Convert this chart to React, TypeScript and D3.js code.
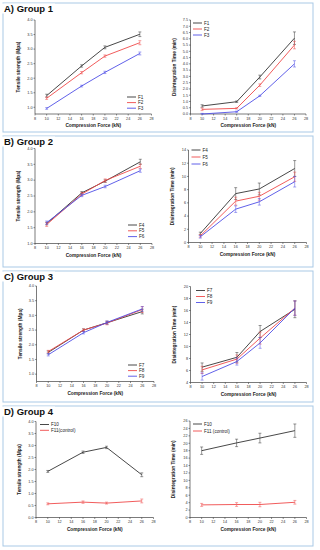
import React from 'react';
import * as d3 from 'd3';

// compression forces (kN)
const forces = [10, 16, 20, 26];
const xTicks = d3.range(8, 29, 2);

// Group 1
const f1Tensile = [1.4, 2.42, 3.06, 3.51];
const f1TensileErr = [0.05, 0.04, 0.05, 0.08];
const f2Tensile = [1.31, 2.19, 2.76, 3.22];
const f2TensileErr = [0.04, 0.04, 0.04, 0.07];
const f3Tensile = [0.96, 1.73, 2.2, 2.85];
const f3TensileErr = [0.03, 0.03, 0.04, 0.05];
const f1Disint = [0.64, 0.98, 2.95, 6.05];
const f1DisintErr = [0.1, 0.06, 0.15, 0.5];
const f2Disint = [0.37, 0.45, 2.3, 5.5];
const f2DisintErr = [0.1, 0.05, 0.1, 0.3];
const f3Disint = [0.0, 0.18, 1.45, 4.0];
const f3DisintErr = [0.05, 0.05, 0.05, 0.25];

// Group 2
const f4Tensile = [1.63, 2.6, 2.97, 3.58];
const f4TensileErr = [0.04, 0.04, 0.04, 0.08];
const f5Tensile = [1.6, 2.56, 2.99, 3.44];
const f5TensileErr = [0.06, 0.05, 0.05, 0.07];
const f6Tensile = [1.66, 2.52, 2.8, 3.3];
const f6TensileErr = [0.05, 0.04, 0.04, 0.05];
const f4Disint = [1.36, 7.4, 8.1, 11.2];
const f4DisintErr = [0.2, 0.9, 0.9, 1.2];
const f5Disint = [1.0, 6.26, 7.0, 9.95];
const f5DisintErr = [0.2, 0.6, 0.6, 0.7];
const f6Disint = [0.86, 5.05, 6.16, 9.2];
const f6DisintErr = [0.2, 0.5, 0.5, 0.8];

// Group 3
const f7Tensile = [1.74, 2.5, 2.75, 3.13];
const f7TensileErr = [0.05, 0.04, 0.05, 0.08];
const f8Tensile = [1.77, 2.5, 2.74, 3.2];
const f8TensileErr = [0.04, 0.04, 0.06, 0.1];
const f9Tensile = [1.66, 2.41, 2.76, 3.22];
const f9TensileErr = [0.04, 0.04, 0.05, 0.08];
const f7Disint = [6.56, 8.2, 12.5, 16.2];
const f7DisintErr = [0.7, 0.8, 1.0, 1.4];
const f8Disint = [6.1, 7.9, 11.4, 16.4];
const f8DisintErr = [0.6, 0.7, 1.0, 1.2];
const f9Disint = [5.0, 7.5, 10.6, 16.4];
const f9DisintErr = [0.6, 0.6, 0.9, 1.2];

// Group 4
const f10Tensile = [1.92, 2.72, 2.92, 1.78];
const f10TensileErr = [0.04, 0.05, 0.05, 0.08];
const f11Tensile = [0.57, 0.64, 0.6, 0.69];
const f11TensileErr = [0.04, 0.05, 0.04, 0.08];
const f10Disint = [18.0, 20.1, 21.4, 23.4];
const f10DisintErr = [1.0, 1.0, 1.3, 1.8];
const f11Disint = [3.4, 3.5, 3.5, 4.1];
const f11DisintErr = [0.4, 0.5, 0.6, 0.5];

const groupTitles = ['A) Group 1', 'B) Group 2', 'C) Group 3', 'D) Group 4'];

const BLACK = '#333333';
const RED = '#ef4a4a';
const BLUE = '#4f4fe6';
const FONT = 'Arial, "Liberation Sans", sans-serif';

type Series = { name: string; values: number[]; errors: number[]; color: string };

type PanelProps = {
  x0: number; x1: number; yTop: number; yBottom: number;
  domain: [number, number]; ticks: number[]; decimals: number;
  yLabel: string; series: Series[];
  legendX: number; legendY: number; legendDy: number;
};

function Panel(p: PanelProps) {
  const x = d3.scaleLinear().domain([8, 28]).range([p.x0, p.x1]);
  const y = d3.scaleLinear().domain(p.domain).range([p.yBottom, p.yTop]);
  const line = d3.line<number>().x((d, i) => x(forces[i])).y(d => y(d));
  const fmt = d3.format(`.${p.decimals}f`);
  return (
    <g fontFamily={FONT}>
      {/* axes */}
      <line x1={p.x0} x2={p.x0} y1={p.yTop} y2={p.yBottom} stroke="#222" strokeWidth={0.6} />
      <line x1={p.x0} x2={p.x1} y1={p.yBottom} y2={p.yBottom} stroke="#222" strokeWidth={0.6} />
      {p.ticks.map(t => (
        <g key={'y' + t}>
          <line x1={p.x0 - 1.5} x2={p.x0} y1={y(t)} y2={y(t)} stroke="#222" strokeWidth={0.5} />
          <text x={p.x0 - 2.5} y={y(t)} dy="0.35em" fontSize={3.8} textAnchor="end" fill="#333">{fmt(t)}</text>
        </g>
      ))}
      {xTicks.map(t => (
        <g key={'x' + t}>
          <line x1={x(t)} x2={x(t)} y1={p.yBottom} y2={p.yBottom + 1.5} stroke="#222" strokeWidth={0.5} />
          <text x={x(t)} y={p.yBottom + 5.5} fontSize={3.8} textAnchor="middle" fill="#333">{t}</text>
        </g>
      ))}
      <text x={(p.x0 + p.x1) / 2} y={p.yBottom + 13} fontSize={4.8} fontWeight="bold" textAnchor="middle" fill="#222">
        Compression Force (kN)
      </text>
      <text transform={`translate(${p.x0 - 15},${(p.yTop + p.yBottom) / 2}) rotate(-90)`} fontSize={4.8}
        fontWeight="bold" textAnchor="middle" fill="#222">{p.yLabel}</text>
      {/* series */}
      {p.series.map(s => (
        <g key={s.name}>
          <path d={line(s.values) || ''} fill="none" stroke={s.color} strokeWidth={0.9} />
          {s.values.map((v, i) => {
            const cx = x(forces[i]);
            const lo = y(Math.max(p.domain[0], v - s.errors[i]));
            const hi = y(v + s.errors[i]);
            return (
              <g key={i} stroke={s.color} strokeWidth={0.5}>
                <line x1={cx} x2={cx} y1={lo} y2={hi} />
                <line x1={cx - 1.5} x2={cx + 1.5} y1={lo} y2={lo} />
                <line x1={cx - 1.5} x2={cx + 1.5} y1={hi} y2={hi} />
              </g>
            );
          })}
        </g>
      ))}
      {/* legend */}
      {p.series.map((s, i) => (
        <g key={'lg' + s.name}>
          <line x1={p.legendX} x2={p.legendX + 9} y1={p.legendY + i * p.legendDy} y2={p.legendY + i * p.legendDy}
            stroke={s.color} strokeWidth={0.9} />
          <text x={p.legendX + 11} y={p.legendY + i * p.legendDy} dy="0.35em" fontSize={4.6} fill="#222">{s.name}</text>
        </g>
      ))}
    </g>
  );
}

const mk = (name: string, values: number[], errors: number[], color: string): Series => ({ name, values, errors, color });

export default function App() {
  const boxTops = [3, 136, 271, 406];
  const boxBottoms = [132, 267, 402, 546];
  const tenLabel = 'Tensile strength (Mpa)';
  const disLabel = 'Disintegration Time (min)';
  return (
    <svg width={320} height={550} style={{ position: 'absolute', left: 0, top: 0, background: '#fff' }}>
      {boxTops.map((t, i) => (
        <g key={i}>
          <rect x={3} y={t} width={310} height={boxBottoms[i] - t} fill="none" stroke="#a9c9e6" strokeWidth={1} />
          <rect x={1} y={t + 0.5} width={54} height={10} fill="#fff" />
          <text x={4} y={t + 8.5} fontFamily={FONT} fontSize={9.5} fontWeight="bold" fill="#111">{groupTitles[i]}</text>
        </g>
      ))}

      <Panel x0={35} x1={151.5} yTop={20} yBottom={114} domain={[0.77, 4]} ticks={d3.range(1, 4.01, 0.5)} decimals={1}
        yLabel={tenLabel} legendX={127} legendY={97} legendDy={5.6}
        series={[mk('F1', f1Tensile, f1TensileErr, BLACK), mk('F2', f2Tensile, f2TensileErr, RED), mk('F3', f3Tensile, f3TensileErr, BLUE)]} />
      <Panel x0={190.5} x1={306} yTop={20} yBottom={114} domain={[0, 7.5]} ticks={d3.range(0, 7.51, 0.5)} decimals={1}
        yLabel={disLabel} legendX={193} legendY={23} legendDy={6}
        series={[mk('F1', f1Disint, f1DisintErr, BLACK), mk('F2', f2Disint, f2DisintErr, RED), mk('F3', f3Disint, f3DisintErr, BLUE)]} />

      <Panel x0={35} x1={152} yTop={148.5} yBottom={243.5} domain={[1, 4]} ticks={d3.range(1, 4.01, 0.5)} decimals={1}
        yLabel={tenLabel} legendX={128} legendY={225} legendDy={5.8}
        series={[mk('F4', f4Tensile, f4TensileErr, BLACK), mk('F5', f5Tensile, f5TensileErr, RED), mk('F6', f6Tensile, f6TensileErr, BLUE)]} />
      <Panel x0={188.5} x1={306.5} yTop={150} yBottom={242.5} domain={[0, 14]} ticks={d3.range(0, 14.01, 2)} decimals={0}
        yLabel={disLabel} legendX={191.5} legendY={150} legendDy={7}
        series={[mk('F4', f4Disint, f4DisintErr, BLACK), mk('F5', f5Disint, f5DisintErr, RED), mk('F6', f6Disint, f6DisintErr, BLUE)]} />

      <Panel x0={36.5} x1={154} yTop={286} yBottom={381.5} domain={[0.75, 4]} ticks={d3.range(1, 4.01, 0.5)} decimals={1}
        yLabel={tenLabel} legendX={128} legendY={365} legendDy={5.6}
        series={[mk('F7', f7Tensile, f7TensileErr, BLACK), mk('F8', f8Tensile, f8TensileErr, RED), mk('F9', f9Tensile, f9TensileErr, BLUE)]} />
      <Panel x0={190.5} x1={306.5} yTop={286.5} yBottom={382.5} domain={[4, 20]} ticks={d3.range(4, 20.01, 2)} decimals={0}
        yLabel={disLabel} legendX={196} legendY={290.5} legendDy={6}
        series={[mk('F7', f7Disint, f7DisintErr, BLACK), mk('F8', f8Disint, f8DisintErr, RED), mk('F9', f9Disint, f9DisintErr, BLUE)]} />

      <Panel x0={36} x1={153.5} yTop={421.5} yBottom={517.5} domain={[0, 4]} ticks={d3.range(0, 4.01, 0.5)} decimals={1}
        yLabel={tenLabel} legendX={40} legendY={424.5} legendDy={5.8}
        series={[mk('F10', f10Tensile, f10TensileErr, BLACK), mk('F11(control)', f11Tensile, f11TensileErr, RED)]} />
      <Panel x0={190} x1={306.5} yTop={421} yBottom={517.5} domain={[0, 26]} ticks={d3.range(0, 26.01, 2)} decimals={0}
        yLabel={disLabel} legendX={193} legendY={424} legendDy={7}
        series={[mk('F10', f10Disint, f10DisintErr, BLACK), mk('F11 (control)', f11Disint, f11DisintErr, RED)]} />
    </svg>
  );
}
